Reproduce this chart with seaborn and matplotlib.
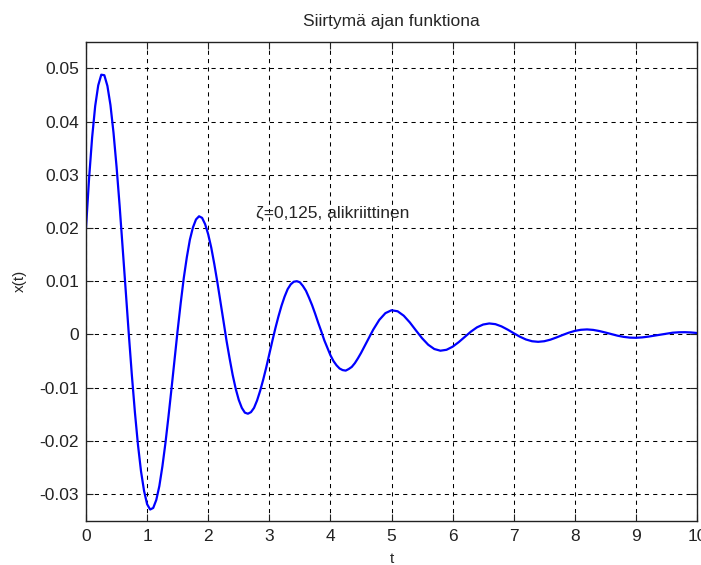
import matplotlib
matplotlib.use("Agg")
import matplotlib.pyplot as plt
import seaborn as sns
import pandas as pd

# values (t, x(t)); denser where the swings are big
t_values = [0.00, 0.05, 0.10, 0.15, 0.20, 0.25, 0.30, 0.35, 0.40, 0.45,
            0.50, 0.55, 0.60, 0.65, 0.70, 0.75, 0.80, 0.85, 0.90, 0.95,
            1.00, 1.05, 1.10, 1.15, 1.20, 1.25, 1.30, 1.35, 1.40, 1.45,
            1.50, 1.55, 1.60, 1.65, 1.70, 1.75, 1.80, 1.85, 1.90, 1.95,
            2.00, 2.05, 2.10, 2.15, 2.20, 2.25, 2.30, 2.35, 2.40, 2.45,
            2.50, 2.55, 2.60, 2.65, 2.70, 2.75, 2.80, 2.85, 2.90, 2.95,
            3.00, 3.05, 3.10, 3.15, 3.20, 3.25, 3.30, 3.35, 3.40, 3.45,
            3.50, 3.55, 3.60, 3.65, 3.70, 3.75, 3.80, 3.85, 3.90, 3.95,
            4.00, 4.05, 4.10, 4.15, 4.20, 4.25, 4.30, 4.35, 4.40, 4.45,
            4.5, 4.6, 4.7, 4.8, 4.9,
            5.0, 5.1, 5.2, 5.3, 5.4, 5.5, 5.6, 5.7, 5.8, 5.9,
            6.0, 6.1, 6.2, 6.3, 6.4, 6.5, 6.6, 6.7, 6.8, 6.9,
            7.0, 7.1, 7.2, 7.3, 7.4, 7.5, 7.6, 7.7, 7.8, 7.9,
            8.0, 8.1, 8.2, 8.3, 8.4, 8.5, 8.6, 8.7, 8.8, 8.9,
            9.0, 9.1, 9.2, 9.3, 9.4, 9.5, 9.6, 9.7, 9.8, 9.9, 10.0]
x_values = [0.0200, 0.0293, 0.0370, 0.0429, 0.0468, 0.0488, 0.0487, 0.0467, 0.0431, 0.0379,
            0.0315, 0.0242, 0.0163, 0.0082, 0.0001, -0.0076, -0.0146, -0.0207, -0.0257, -0.0294,
            -0.0319, -0.0329, -0.0326, -0.0311, -0.0285, -0.0248, -0.0204, -0.0154, -0.0101, -0.0046,
            0.0008, 0.0059, 0.0106, 0.0145, 0.0178, 0.0201, 0.0216, 0.0222, 0.0219, 0.0207,
            0.0188, 0.0163, 0.0132, 0.0098, 0.0062, 0.0025, -0.0012, -0.0045, -0.0076, -0.0102,
            -0.0123, -0.0138, -0.0147, -0.0149, -0.0146, -0.0138, -0.0124, -0.0106, -0.0085, -0.0062,
            -0.0037, -0.0012, 0.0012, 0.0034, 0.0054, 0.0071, 0.0085, 0.0094, 0.0099, 0.0100,
            0.0098, 0.0091, 0.0082, 0.0069, 0.0055, 0.0039, 0.0022, 0.0006, -0.0011, -0.0025,
            -0.0039, -0.0050, -0.0058, -0.0064, -0.0067, -0.0068, -0.0065, -0.0061, -0.0054, -0.0045,
            -0.00351, -0.00131, 0.00088, 0.00273, 0.00400,
            0.00454, 0.00435, 0.00352, 0.00225, 0.00075, -0.00071, -0.00193, -0.00274, -0.00306, -0.00289,
            -0.00231, -0.00145, -0.00045, 0.00053, 0.00134, 0.00186, 0.00206, 0.00193, 0.00151, 0.00091,
            0.00023, -0.00042, -0.00095, -0.00128, -0.00139, -0.00128, -0.00099, -0.00057, -0.00011, 0.00032,
            0.00066, 0.00087, 0.00094, 0.00085, 0.00064, 0.00036, 0.00005, -0.00024, -0.00046, -0.00060,
            -0.00063, -0.00056, -0.00042, -0.00023, -0.00002, 0.00017, 0.00032, 0.00040, 0.00042, 0.00037, 0.00027]

x_ticks = [0, 1, 2, 3, 4, 5, 6, 7, 8, 9, 10]
x_tick_labels = ["0", "1", "2", "3", "4", "5", "6", "7", "8", "9", "10"]
y_ticks = [-0.03, -0.02, -0.01, 0.0, 0.01, 0.02, 0.03, 0.04, 0.05]
y_tick_labels = ["-0.03", "-0.02", "-0.01", "0", "0.01", "0.02", "0.03", "0.04", "0.05"]

title_text = "Siirtymä ajan funktiona"
note_text = "ζ=0,125, alikriittinen"

df = pd.DataFrame({"t": t_values, "x": x_values})

sns.set_style("ticks")
plt.rcParams["font.family"] = ["Liberation Sans", "DejaVu Sans"]

fig = plt.figure(figsize=(7.01, 5.65), dpi=100)
ax = fig.add_axes([0.1227, 0.0784, 0.8716, 0.8478])

sns.lineplot(data=df, x="t", y="x", color="#0000ff", linewidth=1.6, ax=ax)

ax.set_xlim(0, 10)
ax.set_ylim(-0.035, 0.055)
ax.set_xticks(x_ticks)
ax.set_xticklabels(x_tick_labels)
ax.set_yticks(y_ticks)
ax.set_yticklabels(y_tick_labels)

ax.grid(True, color="black", linestyle=(0, (4, 4)), linewidth=0.75)
ax.tick_params(direction="in", length=5, width=0.8, top=True, right=True,
               labelsize=12.5, pad=5, colors="#222222")
ax.tick_params(axis="x", pad=6)
for side in ax.spines.values():
    side.set_color("#222222")
    side.set_linewidth(1.0)

ax.set_xlabel("t", fontsize=11, labelpad=6)
ax.set_ylabel("x(t)", fontsize=11, labelpad=9)
ax.set_title(title_text, fontsize=12.5, pad=11)
ax.text(2.78, 0.0228, note_text, fontsize=12.5, va="center", ha="left")

fig.savefig("out.png", dpi=100)
